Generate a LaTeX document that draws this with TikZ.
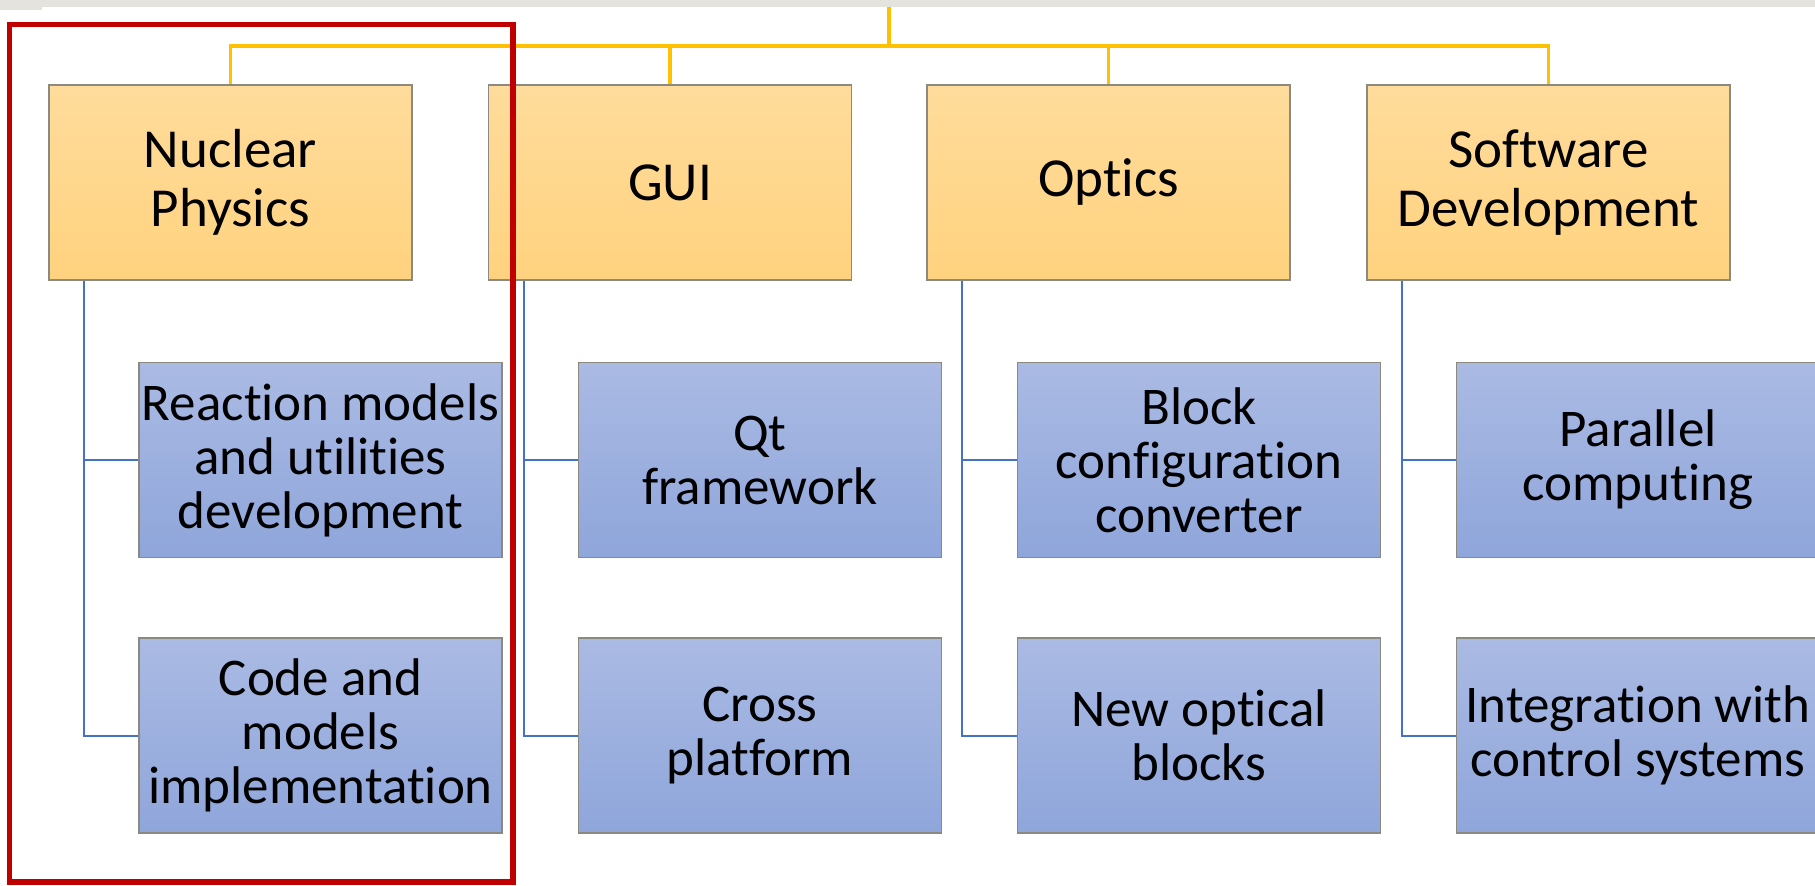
\documentclass[tikz,border=0pt]{standalone}
\usepackage{fontspec}
\setmainfont{Carlito}[Ligatures=NoCommon]

\definecolor{goldtop}{HTML}{FFDC9C}
\definecolor{goldbot}{HTML}{FFD27E}
\definecolor{goldline}{HTML}{FFC000}
\definecolor{bluetop}{HTML}{AABAE3}
\definecolor{bluebot}{HTML}{8FA6DB}
\definecolor{blueline}{HTML}{4472C4}
\definecolor{boxedge}{HTML}{8C8A7E}
\definecolor{markred}{HTML}{C00000}
\definecolor{topbar}{HTML}{E4E3DE}

\begin{document}
\begin{tikzpicture}[x=0.5pt,y=-0.5pt]
		\tikzstyle{every node}+=[inner sep=0pt]
		\tikzstyle{topic}=[draw=boxedge, line width=0.7pt, top color=goldtop, bottom color=goldbot, minimum width=181.5pt, minimum height=97.5pt, align=center, font=\fontsize{27.5}{29.5}\selectfont]
		\tikzstyle{task}=[draw=boxedge, line width=0.7pt, top color=bluetop, bottom color=bluebot, minimum width=181.5pt, minimum height=97.5pt, align=center, font=\fontsize{26.5}{27}\selectfont]
		\tikzstyle{bus}=[goldline, line width=1.7pt]
		\tikzstyle{leg}=[blueline, line width=1pt]
		\useasboundingbox (0,0) rectangle (1815,885);
		\fill [white] (0,0) rectangle (1815,885);
		\fill [topbar] (0,0) rectangle (1815,7);
		\fill [topbar] (0,7) rectangle (42,10);
		% top level
		\coordinate (root) at (889,7);
		\coordinate (split) at (889,46);
		\node [topic] (nucl) at (230.5,182.5) {Nuclear\\Physics};
		\node [topic] (gui) at (670,182.5) {GUI};
		\node [topic] (optics) at (1108.5,182.5) {Optics};
		\node [topic] (soft) at (1548.5,182.5) {Software\\Development};
		\draw [bus] (root) -- (split);
		\draw [bus] (split) -| (nucl.north);
		\draw [bus] (split) -| (gui.north);
		\draw [bus] (split) -| (optics.north);
		\draw [bus] (split) -| (soft.north);
		% second level
		\node [task] (react) at (320.5,460) {Reaction models\\and utilities\\development};
		\node [task] (impl) at (320.5,735.5) {Code and\\models\\implementation};
		\node [task] (qt) at (760,460) {Qt\\framework};
		\node [task] (cross) at (760,735.5) {Cross\\platform};
		\node [task] (block) at (1199,460) {Block\\configuration\\converter};
		\node [task] (newblk) at (1199,735.5) {New optical\\blocks};
		\node [task] (para) at (1638,460) {Parallel\\computing};
		\node [task] (integ) at (1638,735.5) {Integration with\\control systems};
		\draw [leg] ([xshift=18pt]nucl.south west) |- (react.west);
		\draw [leg] ([xshift=18pt]nucl.south west) |- (impl.west);
		\draw [leg] ([xshift=18pt]gui.south west) |- (qt.west);
		\draw [leg] ([xshift=18pt]gui.south west) |- (cross.west);
		\draw [leg] ([xshift=18pt]optics.south west) |- (block.west);
		\draw [leg] ([xshift=18pt]optics.south west) |- (newblk.west);
		\draw [leg] ([xshift=18pt]soft.south west) |- (para.west);
		\draw [leg] ([xshift=18pt]soft.south west) |- (integ.west);
		% highlight
		\draw [markred, line width=2.6pt] (9.5,24.5) rectangle (513,882);
	\end{tikzpicture}
\end{document}
